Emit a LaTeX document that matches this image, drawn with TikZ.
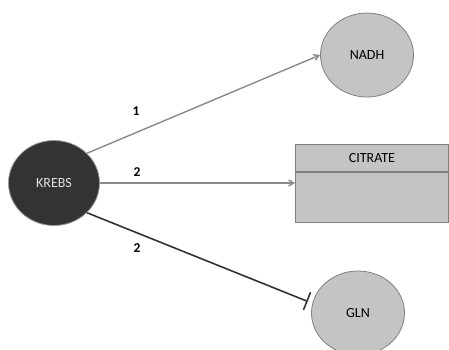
\documentclass[tikz,border=0pt]{standalone}
\usepackage{fontspec}
\setmainfont{Carlito}
\usetikzlibrary{arrows.meta,shapes.geometric}
\definecolor{darkfill}{HTML}{333333}
\definecolor{lightfill}{HTML}{C4C4C4}
\definecolor{edgegray}{HTML}{8A8A8A}
\definecolor{bordergray}{HTML}{7F7F7F}
\begin{document}
\begin{tikzpicture}[x=1pt,y=-1pt,
  every node/.style={font=\fontsize{14}{16}\selectfont},
  dark/.style={ellipse, fill=darkfill, draw=gray!80, line width=0.8pt, text=white!88!black, minimum width=91pt, minimum height=85pt, inner sep=0pt},
  light/.style={ellipse, fill=lightfill, draw=bordergray, line width=0.8pt, minimum width=93pt, minimum height=84pt, inner sep=0pt},
  act/.style={draw=edgegray, line width=1.4pt, -{Straight Barb[length=5pt,width=6pt]}},
  inh/.style={draw=black!80, line width=1.6pt, shorten >=5pt, -{Bar[width=19pt,line width=1.6pt]}},
  lbl/.style={font=\fontsize{13.5}{15}\selectfont\bfseries}
]
\useasboundingbox (0,0) rectangle (449,349);
\node[dark] (krebs) at (54,183) {KREBS};
\node[light] (nadh) at (367,55) {NADH};
\node[light] (gln) at (358,313) {GLN};
\node[draw=bordergray, fill=lightfill, line width=0.8pt, minimum width=153pt, minimum height=27pt, inner sep=0pt, anchor=north west] (cith) at (295,144) {CITRATE};
\node[draw=bordergray, fill=lightfill, line width=0.8pt, minimum width=153pt, minimum height=50pt, inner sep=0pt, anchor=north west] (citb) at (cith.south west) {};
\draw[act] (krebs.42) -- (nadh.west);
\draw[act] (krebs.east) -- (citb.west |- krebs.east);
\draw[inh] (krebs.-42) -- (gln.168);
\node[lbl] (l1) at (136,111) {1};
\node[lbl] (l2) at (137,172) {2};
\node[lbl] (l3) at (137,248) {2};
\end{tikzpicture}
\end{document}
